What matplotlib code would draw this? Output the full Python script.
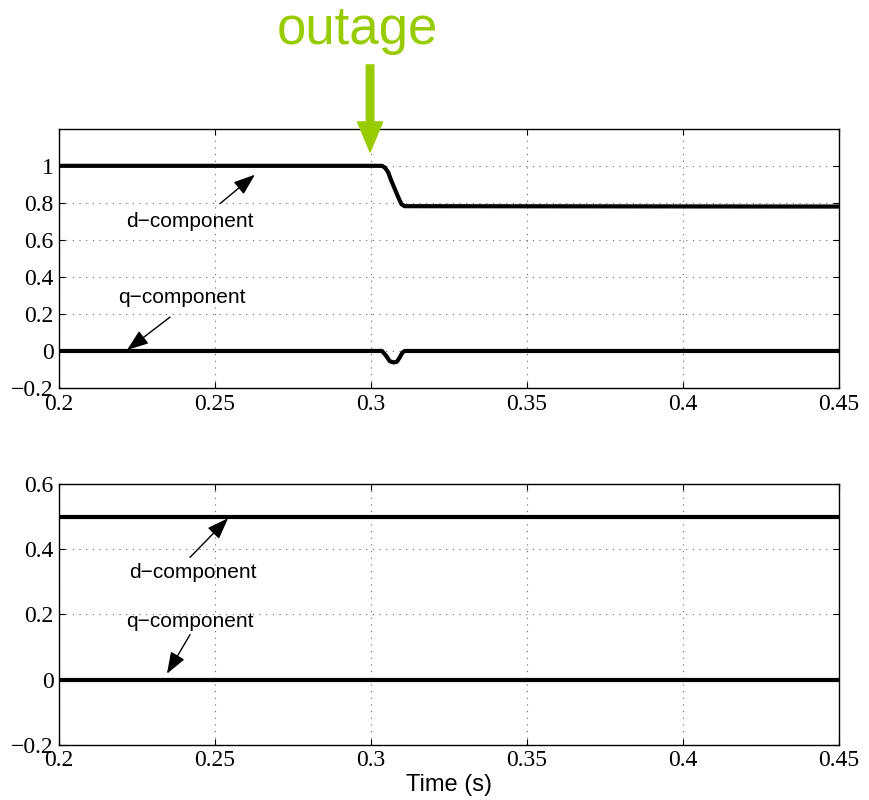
#!/usr/bin/env python3
# d/q components before and after outage (two panels)

import numpy as np
import matplotlib
matplotlib.use('Agg')
import matplotlib.pyplot as plt

# ---- data ----------------------------------------------------------------
t_top_d=[0.2,0.3035,0.3045,0.3055,0.3065,0.308,0.309,0.3098,0.3108,0.45]
v_top_d=[1.0,1.0,0.99,0.965,0.92,0.86,0.82,0.792,0.782,0.78]
t_top_q=[0.2,0.3035,0.3048,0.306,0.3072,0.3083,0.3092,0.3100,0.3108,0.45]
v_top_q=[0.0,0.0,-0.025,-0.055,-0.062,-0.058,-0.035,-0.01,0.0,0.0]

t_bot=[0.2,0.45]
v_bot_d=[0.5,0.5]
v_bot_q=[0.0,0.0]

x_ticks=[0.2,0.25,0.3,0.35,0.4,0.45]
x_ticklabels=['0.2','0.25','0.3','0.35','0.4','0.45']
y_ticks_top=[-0.2,0,0.2,0.4,0.6,0.8,1.0]
y_ticklabels_top=['\u22120.2','0','0.2','0.4','0.6','0.8','1']
y_ticks_bot=[-0.2,0,0.2,0.4,0.6]
y_ticklabels_bot=['\u22120.2','0','0.2','0.4','0.6']

green='#99cc00'
serif='Liberation Serif'
sans='Liberation Sans'


def style_ax(ax,yticks,ylabels,ylim):
    ax.set_xlim(0.2,0.45)
    ax.set_ylim(*ylim)
    ax.set_xticks(x_ticks)
    ax.set_xticklabels(x_ticklabels,fontfamily=serif,fontsize=17)
    ax.set_yticks(yticks)
    ax.set_yticklabels(ylabels,fontfamily=serif,fontsize=17)
    ax.tick_params(direction='in',top=True,right=True,length=4,width=0.8,pad=4)
    ax.grid(True,color='#666666',linestyle=(0,(1,5)),linewidth=0.8)
    for sp in ax.spines.values():
        sp.set_linewidth(1.0)


fig=plt.figure(figsize=(8.7,8.0),dpi=100)
ax1=fig.add_axes([0.0678,0.515,0.8966,0.324])
ax2=fig.add_axes([0.0678,0.069,0.8966,0.326])

# top panel
ax1.plot(t_top_d,v_top_d,color='black',lw=3,solid_joinstyle='round')
ax1.plot(t_top_q,v_top_q,color='black',lw=3,solid_joinstyle='round')
style_ax(ax1,y_ticks_top,y_ticklabels_top,(-0.2,1.2))

arr=dict(arrowstyle='-|>,head_length=0.6,head_width=0.22',color='black',lw=1.0,
    mutation_scale=22,shrinkA=0,shrinkB=0)
ax1.annotate('',xy=(0.2628,0.952),xytext=(0.2516,0.796),arrowprops=arr)
ax1.text(0.2420,0.70,'d\u2212component',fontfamily=sans,fontsize=15,ha='center',va='center')
ax1.annotate('',xy=(0.2218,0.005),xytext=(0.2356,0.183),arrowprops=arr)
ax1.text(0.2394,0.29,'q\u2212component',fontfamily=sans,fontsize=15,ha='center',va='center')

# outage marker
ax1.annotate('',xy=(0.2997,1.075),xytext=(0.2997,1.545),annotation_clip=False,
    arrowprops=dict(arrowstyle='simple,head_width=1.0,head_length=1.2,tail_width=0.3',
    color=green,mutation_scale=18,shrinkA=0,shrinkB=0))
fig.text(357/870,1-30/800,'outage',color=green,fontfamily=sans,fontsize=38,
    ha='center',va='center')

# bottom panel
ax2.plot(t_bot,v_bot_d,color='black',lw=3)
ax2.plot(t_bot,v_bot_q,color='black',lw=3)
style_ax(ax2,y_ticks_bot,y_ticklabels_bot,(-0.2,0.6))

ax2.annotate('',xy=(0.2542,0.495),xytext=(0.2420,0.375),arrowprops=arr)
ax2.text(0.2429,0.329,'d\u2212component',fontfamily=sans,fontsize=15,ha='center',va='center')
ax2.annotate('',xy=(0.2346,0.018),xytext=(0.2420,0.138),arrowprops=arr)
ax2.text(0.2420,0.178,'q\u2212component',fontfamily=sans,fontsize=15,ha='center',va='center')
ax2.set_xlabel('Time (s)',fontfamily=sans,fontsize=17,labelpad=2)

fig.savefig('out.png',dpi=100)
plt.close('all')
